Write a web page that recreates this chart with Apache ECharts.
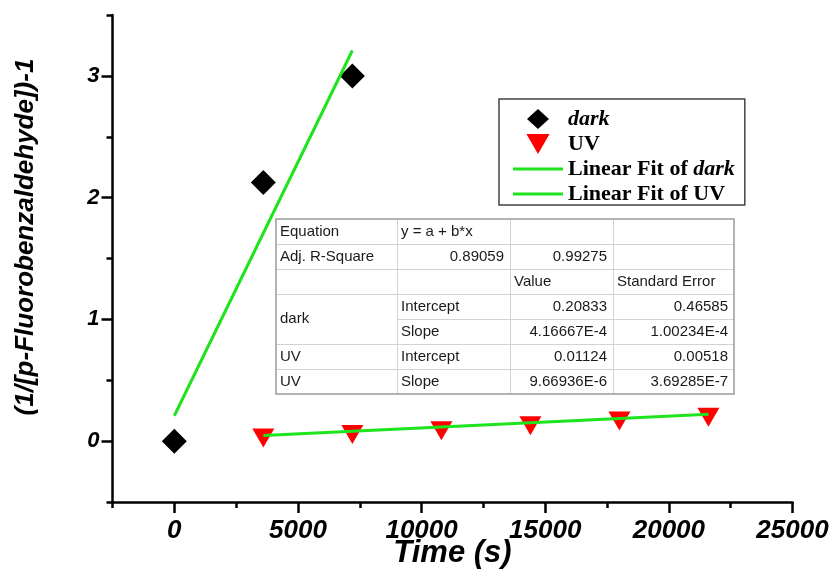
<!DOCTYPE html>
<html>
<head>
<meta charset="utf-8">
<script src="https://cdn.jsdelivr.net/npm/echarts@6/dist/echarts.min.js"></script>
<style>
  html, body { margin: 0; padding: 0; background: #fff; }
  #chart { width: 837px; height: 570px; }
</style>
</head>
<body>
<div id="chart"></div>
<script>
// Measured points: time (s) vs 1/[p-Fluorobenzaldehyde] - 1
const darkTime = [0, 3600, 7200];
const darkValue = [0, 2.125, 3.0];
const uvTime = [3600, 7200, 10800, 14400, 18000, 21600];
const uvValue = [0.05, 0.08, 0.11, 0.15, 0.19, 0.22];

// Linear fit results: [intercept, slope] and their standard errors
const darkFit = [0.20833, 4.16667e-4];
const darkFitErr = [0.46585, 1.00234e-4];
const uvFit = [0.01124, 9.66936e-6];
const uvFitErr = [0.00518, 3.69285e-7];
const adjRSquare = [0.89059, 0.99275];

// Axis ticks
const xTicks = [0, 5000, 10000, 15000, 20000, 25000];
const yTicks = [0, 1, 2, 3];

const seriesNames = ['dark', 'UV', 'Linear Fit of dark', 'Linear Fit of UV'];

const SANS = '"Liberation Sans", Arial, sans-serif';
const SERIF = '"Liberation Serif", "Times New Roman", serif';
const GREEN = '#1ee41e';

// Number formatting in the style of the fit report
function fmt(v) {
  return Math.abs(v) < 1e-3 ? v.toExponential(5).replace('e', 'E') : v.toFixed(5);
}

// Endpoints of a fitted line over the x-range of its data
function fitLine(fit, xs) {
  const x0 = Math.min(...xs), x1 = Math.max(...xs);
  return [[x0, fit[0] + fit[1] * x0], [x1, fit[0] + fit[1] * x1]];
}

const tableRows = [
  ['Equation', 'y = a + b*x', '', ''],
  ['Adj. R-Square', fmt(adjRSquare[0]), fmt(adjRSquare[1]), ''],
  ['', '', 'Value', 'Standard Error'],
  ['dark', 'Intercept', fmt(darkFit[0]), fmt(darkFitErr[0])],
  ['', 'Slope', fmt(darkFit[1]), fmt(darkFitErr[1])],
  ['UV', 'Intercept', fmt(uvFit[0]), fmt(uvFitErr[0])],
  ['UV', 'Slope', fmt(uvFit[1]), fmt(uvFitErr[1])]
];

// Fit report table layout
const colX = [276, 397, 510, 613, 734];
const rowTop = 219;
const rowH = 25;

function buildTable() {
  const els = [];
  const nRows = tableRows.length;
  const bottom = rowTop + nRows * rowH;
  els.push({
    type: 'rect', z: 100,
    shape: { x: colX[0], y: rowTop, width: colX[4] - colX[0], height: bottom - rowTop },
    style: { fill: '#fff', stroke: 'none' }
  });
  // horizontal rules
  for (let r = 1; r < nRows; r++) {
    const y = rowTop + r * rowH + 0.5;
    const startX = (r === 4) ? colX[1] : colX[0];
    els.push({
      type: 'line', z: 101,
      shape: { x1: startX, y1: y, x2: colX[4], y2: y },
      style: { stroke: '#d2d2d2', lineWidth: 1 }
    });
  }
  // vertical rules
  for (let c = 1; c < 4; c++) {
    els.push({
      type: 'line', z: 101,
      shape: { x1: colX[c] + 0.5, y1: rowTop, x2: colX[c] + 0.5, y2: bottom },
      style: { stroke: '#d2d2d2', lineWidth: 1 }
    });
  }
  // outer frame
  els.push({
    type: 'rect', z: 102,
    shape: { x: colX[0], y: rowTop, width: colX[4] - colX[0], height: bottom - rowTop },
    style: { fill: 'none', stroke: '#9a9a9a', lineWidth: 1.5 }
  });
  const isNum = s => /^-?[0-9.]+(E-?\d+)?$/.test(s);
  tableRows.forEach((row, r) => {
    row.forEach((txt, c) => {
      if (!txt) return;
      let cy = rowTop + r * rowH + rowH / 2;
      if (r === 3 && c === 0) cy += rowH / 2; // merged "dark" cell
      const right = isNum(txt);
      els.push({
        type: 'text', z: 103,
        x: right ? colX[c + 1] - 6 : colX[c] + 4,
        y: cy,
        style: {
          text: txt,
          fill: '#1a1a1a',
          font: '15px ' + SANS,
          align: right ? 'right' : 'left',
          textAlign: right ? 'right' : 'left',
          verticalAlign: 'middle',
          textVerticalAlign: 'middle'
        }
      });
    });
  });
  return els;
}

const gridBox = { left: 112.5, top: 15, right: 44.5, bottom: 68, outerBoundsMode: 'none', containLabel: false };
const axisLineStyle = { color: '#000', width: 2.5 };
const plainNumber = v => String(v);

const chart = echarts.init(document.getElementById('chart'), null, { renderer: 'canvas' });

const option = {
  animation: false,
  backgroundColor: '#fff',
  grid: [Object.assign({}, gridBox), Object.assign({}, gridBox)],
  xAxis: [
    {
      gridIndex: 0, type: 'value', min: -2500, max: 25000, interval: 2500,
      name: 'Time (s)', nameLocation: 'middle', nameGap: 36, nameMoveOverlap: false,
      nameTextStyle: { fontFamily: SANS, fontSize: 31, fontWeight: 'bold', fontStyle: 'italic', color: '#000' },
      axisLine: { show: true, onZero: false, lineStyle: axisLineStyle },
      axisTick: { show: true, customValues: xTicks, length: 11, lineStyle: axisLineStyle },
      axisLabel: {
        customValues: xTicks, margin: 16, color: '#000', formatter: plainNumber,
        fontFamily: SANS, fontSize: 26, fontWeight: 'bold', fontStyle: 'italic'
      },
      splitLine: { show: false }
    },
    {
      gridIndex: 1, type: 'value', min: -2500, max: 25000, interval: 2500,
      axisLine: { show: false, onZero: false },
      axisTick: { show: true, length: 6, lineStyle: axisLineStyle },
      axisLabel: { show: false },
      splitLine: { show: false }
    }
  ],
  yAxis: [
    {
      gridIndex: 0, type: 'value', min: -0.5, max: 3.5, interval: 0.5,
      name: '(1/[p-Fluorobenzaldehyde])-1', nameLocation: 'middle', nameGap: 74, nameMoveOverlap: false,
      nameTextStyle: {
        fontFamily: SANS, fontSize: 26, fontWeight: 'bold', fontStyle: 'italic', color: '#000',
        padding: [0, 0, 0, 43]
      },
      axisLine: { show: true, onZero: false, lineStyle: axisLineStyle },
      axisTick: { show: true, customValues: yTicks, length: 11, lineStyle: axisLineStyle },
      axisLabel: {
        customValues: yTicks, margin: 13, color: '#000', formatter: plainNumber,
        fontFamily: SANS, fontSize: 22, fontWeight: 'bold', fontStyle: 'italic'
      },
      splitLine: { show: false }
    },
    {
      gridIndex: 1, type: 'value', min: -0.5, max: 3.5, interval: 0.5,
      axisLine: { show: false, onZero: false },
      axisTick: { show: true, length: 6, lineStyle: axisLineStyle },
      axisLabel: { show: false },
      splitLine: { show: false }
    }
  ],
  legend: {
    orient: 'vertical', left: 499, top: 99,
    itemWidth: 50, itemHeight: 20, itemGap: 3,
    padding: [9, 10, 0, 14],
    backgroundColor: '#fff', borderColor: '#444', borderWidth: 1.5,
    selectedMode: false,
    data: [
      { name: seriesNames[0], icon: 'path://M11,0L22,10L11,20L0,10Z' },
      { name: seriesNames[1], icon: 'path://M0,0L22,0L11,19Z' },
      { name: seriesNames[2], icon: 'path://M0,0L50,0L50,3L0,3Z' },
      { name: seriesNames[3], icon: 'path://M0,0L50,0L50,3L0,3Z' }
    ],
    formatter: n => n.replace('dark', '{it|dark}'),
    textStyle: {
      fontFamily: SERIF, fontSize: 22, fontWeight: 'bold', color: '#000',
      rich: { it: { fontFamily: SERIF, fontSize: 22, fontWeight: 'bold', fontStyle: 'italic', color: '#000' } }
    }
  },
  series: [
    {
      name: seriesNames[0], type: 'scatter', xAxisIndex: 0, yAxisIndex: 0,
      data: darkTime.map((t, i) => [t, darkValue[i]]),
      symbol: 'diamond', symbolSize: 25,
      itemStyle: { color: '#000', opacity: 1 }
    },
    {
      name: seriesNames[1], type: 'scatter', xAxisIndex: 0, yAxisIndex: 0,
      data: uvTime.map((t, i) => [t, uvValue[i]]),
      symbol: 'triangle', symbolRotate: 180, symbolSize: [22, 19], symbolOffset: [0, 3],
      itemStyle: { color: '#ff0000', opacity: 1 }
    },
    {
      name: seriesNames[2], type: 'line', xAxisIndex: 0, yAxisIndex: 0,
      data: fitLine(darkFit, darkTime),
      symbol: 'none', color: GREEN,
      itemStyle: { color: GREEN },
      lineStyle: { color: GREEN, width: 3 }
    },
    {
      name: seriesNames[3], type: 'line', xAxisIndex: 0, yAxisIndex: 0,
      data: fitLine(uvFit, uvTime),
      symbol: 'none', color: GREEN,
      itemStyle: { color: GREEN },
      lineStyle: { color: GREEN, width: 3 }
    }
  ],
  graphic: { elements: buildTable() }
};

chart.setOption(option);
</script>
</body>
</html>
